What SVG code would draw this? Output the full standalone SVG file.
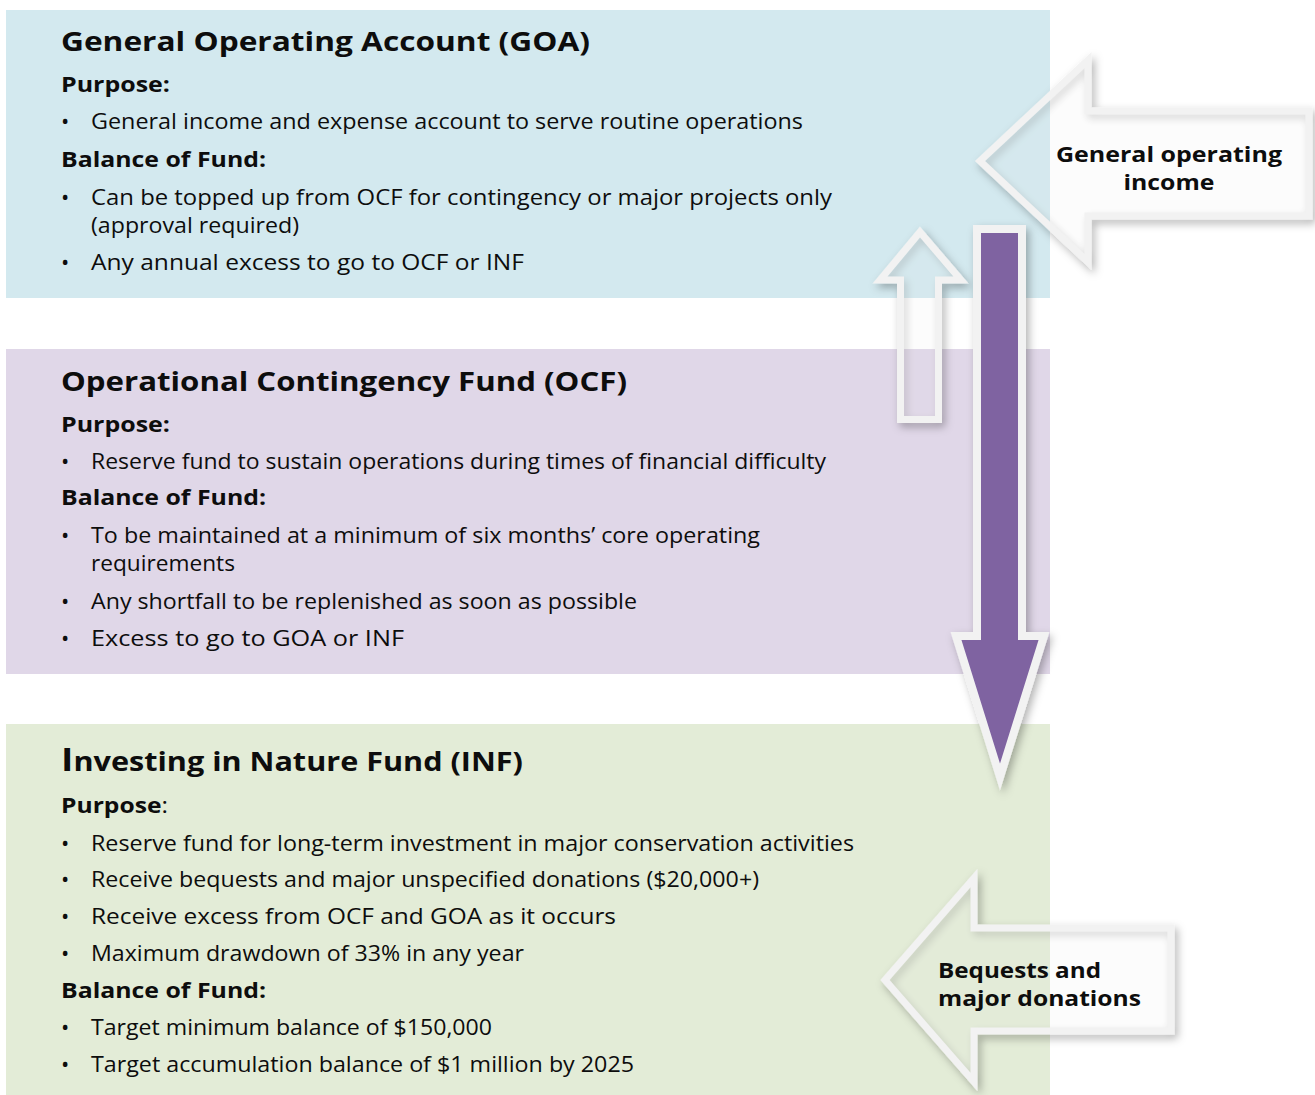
<svg xmlns="http://www.w3.org/2000/svg" width="1315" height="1095" viewBox="0 0 1315 1095">
  <style>
    text { font-family: "Open Sans", "Noto Sans", "Liberation Sans", sans-serif; fill: #0d0d0d; }
    .title { font-size: 27px; font-weight: 700; }
    .head { font-size: 21px; font-weight: 700; }
    .body { font-size: 21px; font-weight: 400; }
    .bullet { font-size: 22px; font-weight: 400; }
    .label { font-size: 21px; font-weight: 700; }
    .outline { fill: #ffffff; fill-opacity: 0.08; stroke: #f2f2f2; stroke-width: 7; stroke-linejoin: miter; stroke-miterlimit: 10; }
  </style>
  <defs>
    <filter id="shadow" x="-20%" y="-20%" width="140%" height="140%">
      <feDropShadow dx="3" dy="4" stdDeviation="4" flood-color="#000000" flood-opacity="0.3"/>
    </filter>
  </defs>

  <rect width="1315" height="1095" fill="#ffffff"/>

  <!-- General Operating Account -->
  <g id="goa">
    <rect x="6" y="10" width="1044" height="288" fill="#d3e9ef"/>
    <text class="title" x="61" y="51" textLength="529" lengthAdjust="spacingAndGlyphs">General Operating Account (GOA)</text>
    <text class="head" x="61" y="92" textLength="109" lengthAdjust="spacingAndGlyphs">Purpose:</text>
    <text class="bullet" x="61" y="129">•</text>
    <text class="body" x="91" y="129" textLength="712" lengthAdjust="spacingAndGlyphs">General income and expense account to serve routine operations</text>
    <text class="head" x="61" y="167" textLength="205" lengthAdjust="spacingAndGlyphs">Balance of Fund:</text>
    <text class="bullet" x="61" y="205">•</text>
    <text class="body" x="91" y="205" textLength="741" lengthAdjust="spacingAndGlyphs">Can be topped up from OCF for contingency or major projects only</text>
    <text class="body" x="91" y="233" textLength="208" lengthAdjust="spacingAndGlyphs">(approval required)</text>
    <text class="bullet" x="61" y="270">•</text>
    <text class="body" x="91" y="270" textLength="433" lengthAdjust="spacingAndGlyphs">Any annual excess to go to OCF or INF</text>
  </g>

  <!-- Operational Contingency Fund -->
  <g id="ocf">
    <rect x="6" y="349" width="1044" height="325" fill="#e0d7e8"/>
    <text class="title" x="61" y="391" textLength="566" lengthAdjust="spacingAndGlyphs">Operational Contingency Fund (OCF)</text>
    <text class="head" x="61" y="432" textLength="109" lengthAdjust="spacingAndGlyphs">Purpose:</text>
    <text class="bullet" x="61" y="469">•</text>
    <text class="body" x="91" y="469" textLength="735" lengthAdjust="spacingAndGlyphs">Reserve fund to sustain operations during times of financial difficulty</text>
    <text class="head" x="61" y="505" textLength="205" lengthAdjust="spacingAndGlyphs">Balance of Fund:</text>
    <text class="bullet" x="61" y="543">•</text>
    <text class="body" x="91" y="543" textLength="669" lengthAdjust="spacingAndGlyphs">To be maintained at a minimum of six months’ core operating</text>
    <text class="body" x="91" y="571" textLength="144" lengthAdjust="spacingAndGlyphs">requirements</text>
    <text class="bullet" x="61" y="609">•</text>
    <text class="body" x="91" y="609" textLength="546" lengthAdjust="spacingAndGlyphs">Any shortfall to be replenished as soon as possible</text>
    <text class="bullet" x="61" y="646">•</text>
    <text class="body" x="91" y="646" textLength="313" lengthAdjust="spacingAndGlyphs">Excess to go to GOA or INF</text>
  </g>

  <!-- Investing in Nature Fund -->
  <g id="inf">
    <rect x="6" y="724" width="1044" height="371" fill="#e3ecd7"/>
    <text class="title" x="61" y="771" textLength="462" lengthAdjust="spacingAndGlyphs"><tspan font-size="33">I</tspan>nvesting in Nature Fund (INF)</text>
    <text class="head" x="61" y="813" textLength="107" lengthAdjust="spacingAndGlyphs">Purpose<tspan font-weight="400">:</tspan></text>
    <text class="bullet" x="61" y="851">•</text>
    <text class="body" x="91" y="851" textLength="763" lengthAdjust="spacingAndGlyphs">Reserve fund for long-term investment in major conservation activities</text>
    <text class="bullet" x="61" y="887">•</text>
    <text class="body" x="91" y="887" textLength="668" lengthAdjust="spacingAndGlyphs">Receive bequests and major unspecified donations ($20,000+)</text>
    <text class="bullet" x="61" y="924">•</text>
    <text class="body" x="91" y="924" textLength="525" lengthAdjust="spacingAndGlyphs">Receive excess from OCF and GOA as it occurs</text>
    <text class="bullet" x="61" y="961">•</text>
    <text class="body" x="91" y="961" textLength="433" lengthAdjust="spacingAndGlyphs">Maximum drawdown of 33% in any year</text>
    <text class="head" x="61" y="998" textLength="205" lengthAdjust="spacingAndGlyphs">Balance of Fund:</text>
    <text class="bullet" x="61" y="1035">•</text>
    <text class="body" x="91" y="1035" textLength="401" lengthAdjust="spacingAndGlyphs">Target minimum balance of $150,000</text>
    <text class="bullet" x="61" y="1072">•</text>
    <text class="body" x="91" y="1072" textLength="543" lengthAdjust="spacingAndGlyphs">Target accumulation balance of $1 million by 2025</text>
  </g>

  <!-- Flow arrows between the funds -->
  <g id="connectors">
    <!-- hollow arrow: OCF tops up GOA -->
    <path class="outline" filter="url(#shadow)" fill="none" d="M920,232 L961,280 L938.5,280 L938.5,419.5 L900.5,419.5 L900.5,280 L880,280 Z"/>
    <!-- solid arrow: excess flows down to INF -->
    <path filter="url(#shadow)" fill="#7f63a1" stroke="#f2f2f2" stroke-width="8" stroke-miterlimit="10" d="M977,229 L1022,229 L1022,636 L1044,636 L1000,777 L956,636 L977,636 Z"/>
  </g>

  <!-- Incoming income arrow -->
  <g id="income-arrow">
    <path class="outline" filter="url(#shadow)" d="M980,161 L1088,60 L1088,111 L1309,111 L1309,216 L1088,216 L1088,262 Z"/>
    <text class="label" x="1169" y="162" text-anchor="middle" textLength="226" lengthAdjust="spacingAndGlyphs">General operating</text>
    <text class="label" x="1169" y="190" text-anchor="middle" textLength="91" lengthAdjust="spacingAndGlyphs">income</text>
  </g>

  <!-- Incoming bequests arrow -->
  <g id="bequests-arrow">
    <path class="outline" filter="url(#shadow)" d="M885,980 L974,878 L974,928 L1171,928 L1171,1031 L974,1031 L974,1082 Z"/>
    <text class="label" x="938" y="978" textLength="163" lengthAdjust="spacingAndGlyphs">Bequests and</text>
    <text class="label" x="938" y="1006" textLength="203" lengthAdjust="spacingAndGlyphs">major donations</text>
  </g>
</svg>
